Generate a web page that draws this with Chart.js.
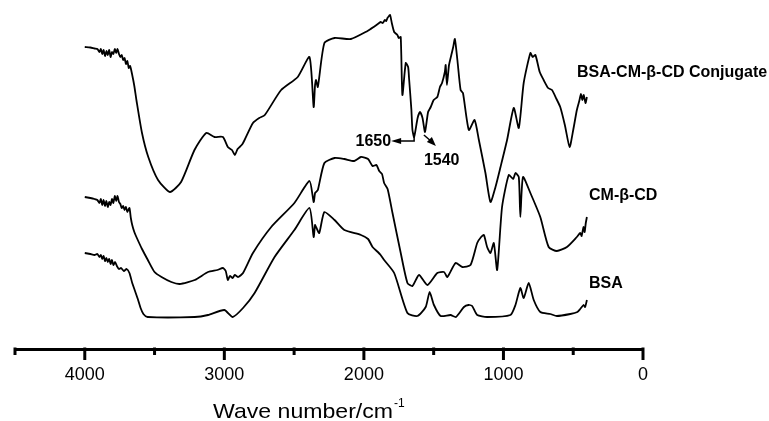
<!DOCTYPE html>
<html><head><meta charset="utf-8">
<script src="https://cdn.jsdelivr.net/npm/chart.js@4/dist/chart.umd.min.js"></script>
<style>html,body{margin:0;padding:0;background:#fff}#wrap{width:769px;height:421px;position:relative}</style>
</head><body><div id="wrap"><canvas id="c"></canvas></div>
<script>
// Wavenumbers (cm^-1) and relative transmittance (arbitrary units, curves stacked)
const conjugateWn = [4000,3960,3930,3910,3895,3885,3875,3865,3855,3845,3835,3825,3815,3805,3795,3785,3775,3765,3755,3745,3735,3725,3715,3705,3695,3685,3675,3660,3645,3630,3590,3545,3475,3390,3310,3214,3130,3070,3010,2975,2945,2925,2905,2890,2870,2855,2795,2750,2710,2593,2474,2390,2360,2350,2343,2330,2283,2210,2093,1974,1930,1900,1880,1865,1850,1840,1831,1820,1812,1800,1783,1760,1750,1736,1724,1700,1683,1676,1660,1652,1640,1615,1598,1580,1562,1540,1521,1500,1474,1455,1440,1420,1414,1405,1390,1370,1360,1348,1330,1307,1290,1248,1207,1176,1129,1093,1057,1021,974,926,890,855,807,790,771,740,712,680,652,620,593,560,526,500,474,455,445,435,425,412,402];
const conjugateT  = [302,301.5,300.5,300,297,300,295,299,293,298,294,299,292,297,295,300,296,300,295,292,294,289,291,285,288,281,283,274,263,249,216,192,169,157,167,199,216,212,212,202,199,194,200,202,205,209,226,231,234,259,272,292,242,264,269,262,306,311,310,318,322,325,327,326,329,328,331,333,334,326,317,314,311,312,254,286,282,270,240,219,212,231,237,231,217,237,242,249,252,262,266,277,284,264,284,296,302,310,289,259,256,219,229,209,176,147,162,182,209,241,221,266,296,292,294,277,269,261,259,250,242,224,202,219,239,249,255,249,254,246,252];
const cdWn = [4000,3960,3930,3910,3895,3885,3875,3865,3855,3845,3835,3825,3815,3805,3795,3785,3775,3765,3755,3745,3735,3725,3715,3705,3695,3680,3670,3660,3645,3630,3590,3548,3500,3450,3380,3320,3212,3117,3050,3010,2990,2975,2960,2940,2925,2900,2866,2795,2664,2498,2390,2360,2350,2343,2330,2283,2210,2140,2069,2021,1970,1938,1910,1890,1870,1855,1830,1795,1736,1688,1652,1605,1545,1474,1426,1402,1343,1295,1236,1188,1160,1140,1117,1093,1069,1045,1010,962,930,914,890,879,860,807,736,676,617,545,474,450,440,426,418,410,402];
const cdT  = [152,151,150,149,146,150,144,149,143,148,142,147,144,150,146,153,148,153,147,145,141,143,139,142,137,141,131,124,117,112,100,89,77,72,67,65,69,77,79,81,78,69,73,71,74,72,76,96,122,146,168,147,156,157,159,186,191,190,188,192,190,183,184,178,175,166,160,136,96,66,63,74,64,76,77,72,86,82,84,106,112,114,102,96,106,79,142,174,170,176,172,132,172,156,132,102,98,102,112,116,113,122,117,126,132];
const bsaWn = [4000,3960,3930,3910,3895,3885,3875,3865,3855,3845,3835,3825,3815,3805,3795,3783,3770,3755,3740,3720,3700,3680,3660,3640,3620,3600,3580,3550,3212,3117,3000,2940,2866,2783,2640,2498,2390,2360,2350,2343,2320,2283,2210,2140,2021,1970,1938,1900,1880,1855,1783,1688,1617,1557,1529,1498,1450,1379,1340,1283,1250,1224,1188,1117,950,914,879,855,819,783,736,664,617,521,470,450,426,415,402];
const bsaT  = [96,95,94,95,92,94,90,93,88,91,87,90,85,89,84,87,83,80,81,78,80,76,66,58,50,41,35,32,32,34,39,32,41,56,92,119,141,112,124,122,116,137,129,119,114,110,102,97,94,89,76,36,33,42,57,44,33,34,32,42,44,43,34,32,34,44,61,51,66,49,37,35,33,35,37,40,44,42,49];
const seriesNames = ['BSA-CM-β-CD Conjugate','CM-β-CD','BSA'];
const xTickValues = [4000,3000,2000,1000,0];
const peakLabels = ['1650','1540'];
const peakWn = [1640,1570];

function pts(wn, t){ return wn.map((w,i)=>({x:w,y:t[i]})); }

const FONT = '"Liberation Sans", Arial, Helvetica, sans-serif';

const decor = {
  id:'decor',
  afterDraw(chart){
    const ctx = chart.ctx, xs = chart.scales.x, ys = chart.scales.y;
    const a = chart.chartArea;
    ctx.save();
    // tick marks (major every 1000, minor every 500)
    ctx.strokeStyle = '#000'; ctx.lineWidth = 3; ctx.lineCap='butt';
    for (let v = 0; v <= 4500; v += 500) {
      const px = xs.getPixelForValue(v);
      const len = (v % 1000 === 0) ? 11 : 6;
      ctx.beginPath(); ctx.moveTo(px, a.bottom - 1.5); ctx.lineTo(px, a.bottom + len); ctx.stroke();
    }
    // axis title with superscript
    ctx.fillStyle = '#000';
    ctx.font = '21px ' + FONT; ctx.textBaseline = 'alphabetic'; ctx.textAlign = 'left';
    const t1 = 'Wave number/cm';
    const tx = 213, target = 180;
    const w1 = ctx.measureText(t1).width;
    const sx = target / w1;
    ctx.save(); ctx.translate(tx, 418); ctx.scale(sx, 1); ctx.fillText(t1, 0, 0); ctx.restore();
    ctx.font = '12px ' + FONT;
    ctx.fillText('-1', tx + target + 1, 407);
    // series labels
    ctx.font = 'bold 16px ' + FONT; ctx.textBaseline = 'middle';
    ctx.fillText(seriesNames[0], 577, 73);
    ctx.fillText(seriesNames[1], 589, 196);
    ctx.fillText(seriesNames[2], 589, 284);
    // peak annotations on conjugate curve
    const ds = chart.data.datasets[0].data;
    const yAt = w => { let best = ds[0]; for (const p of ds) if (Math.abs(p.x-w) < Math.abs(best.x-w)) best = p; return best.y; };
    ctx.lineWidth = 1.5;
    // 1650
    let px = xs.getPixelForValue(peakWn[0]), py = ys.getPixelForValue(yAt(peakWn[0]));
    ctx.beginPath(); ctx.moveTo(px, py); ctx.lineTo(px, py+4); ctx.lineTo(px-15, py+4); ctx.stroke();
    ctx.beginPath(); ctx.moveTo(px-23, py+4); ctx.lineTo(px-13, py+1); ctx.lineTo(px-13, py+7); ctx.closePath(); ctx.fill();
    ctx.textAlign = 'right';
    ctx.fillText(peakLabels[0], px-23, py+5);
    // 1540
    px = xs.getPixelForValue(peakWn[1]); py = ys.getPixelForValue(yAt(peakWn[1]));
    ctx.beginPath(); ctx.moveTo(px, py+3); ctx.lineTo(px+7, py+9); ctx.stroke();
    ctx.beginPath(); ctx.moveTo(px+12, py+14); ctx.lineTo(px+3, py+10); ctx.lineTo(px+8, py+5); ctx.closePath(); ctx.fill();
    ctx.textAlign = 'left';
    ctx.fillText(peakLabels[1], px, py+29);
    ctx.restore();
  }
};

const mk = (wn,t)=>({data:pts(wn,t),borderColor:'#000',borderWidth:1.8,pointRadius:0,tension:0.2,fill:false});

new Chart(document.getElementById('c'), {
  type:'line',
  data:{ datasets:[ mk(conjugateWn,conjugateT), mk(cdWn,cdT), mk(bsaWn,bsaT) ] },
  options:{
    responsive:true, maintainAspectRatio:false, animation:false,
    layout:{ padding:{ left:13, right:126, top:0, bottom:0 } },
    plugins:{ legend:{display:false}, tooltip:{enabled:false} },
    scales:{
      x:{ type:'linear', reverse:true, min:0, max:4500,
          grid:{ display:false, drawTicks:false },
          border:{ display:true, color:'#000', width:3 },
          ticks:{ stepSize:500, autoSkip:false, maxRotation:0, padding:15, color:'#000',
                  font:{ family:FONT, size:18 },
                  callback:(v)=> xTickValues.includes(v) ? String(v) : '' },
          afterFit:(s)=>{ s.height = 72; } },
      y:{ display:false, min:0, max:349 }
    }
  },
  plugins:[decor]
});
</script></body></html>
